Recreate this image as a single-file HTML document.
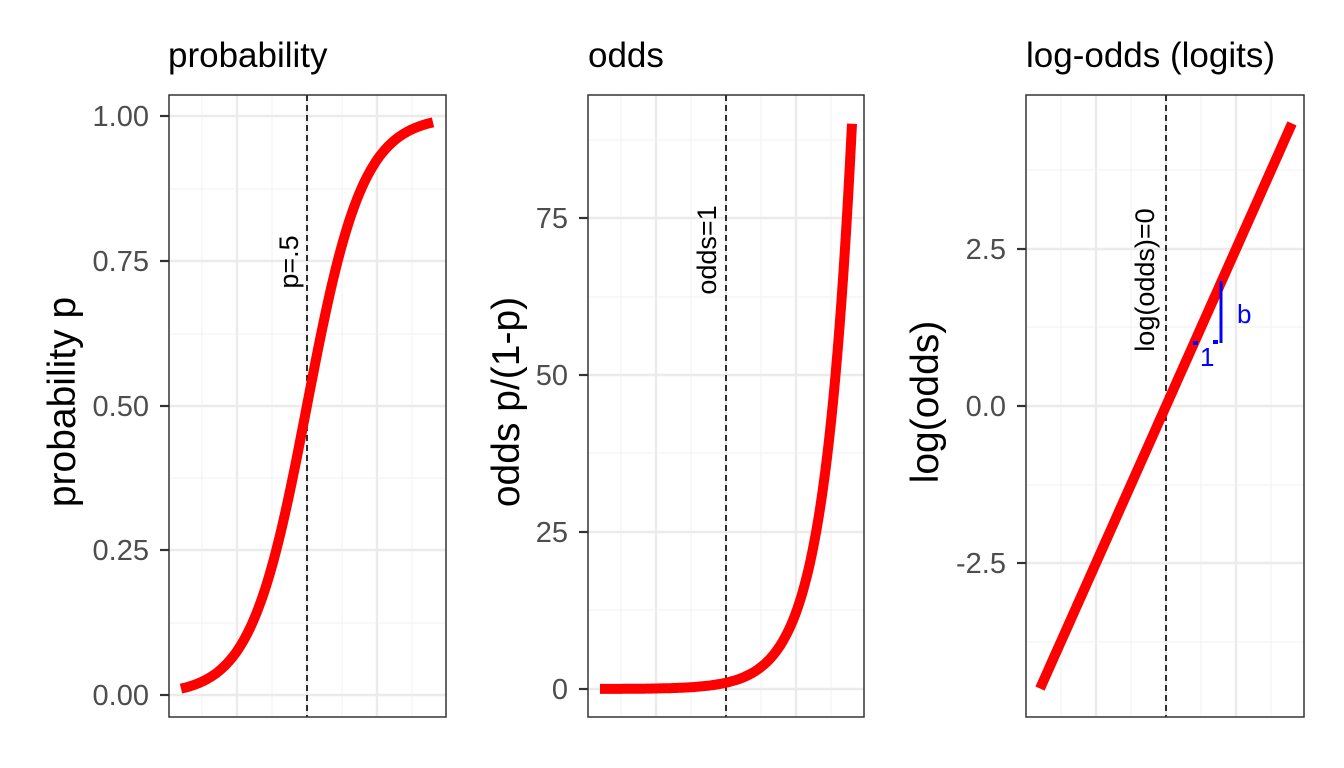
<!DOCTYPE html>
<html><head><meta charset="utf-8"><style>body{margin:0;background:#fff}svg{display:block;font-family:"Liberation Sans",sans-serif}</style></head>
<body><svg id="s" width="1344" height="768" xmlns="http://www.w3.org/2000/svg"></svg>
<script>
const s=document.getElementById('s');let h='';
function L(x1,y1,x2,y2,c,w,extra){h+=`<line x1="${x1}" y1="${y1}" x2="${x2}" y2="${y2}" stroke="${c}" stroke-width="${w}" ${extra||''}/>`;}
function T(x,y,t,sz,c,anchor,rot){h+=`<text x="${x}" y="${y}" font-size="${sz}" fill="${c}" text-anchor="${anchor||'start'}" ${rot?`transform="rotate(-90 ${x} ${y})"`:''}>${t}</text>`;}
const panels=[
 {x0:169,x1:446,cx:307,title:'probability',tx:168,ylab:'probability p',ylx:75,
  maj:[[695,'0.00'],[550,'0.25'],[406,'0.50'],[261,'0.75'],[116,'1.00']],min:[623,478,334,189],
  f:x=>695-579/(1+Math.exp(-x)),lab:'p=.5',labx:298,laby:262},
 {x0:588,x1:864,cx:726,title:'odds',tx:588,ylab:'odds p/(1-p)',ylx:519,
  maj:[[689,'0'],[532,'25'],[375,'50'],[218,'75']],min:[610,453,297,140],
  f:x=>689-6.28*Math.exp(x),lab:'odds=1',labx:716,laby:250},
 {x0:1026,x1:1304,cx:1166,title:'log-odds (logits)',tx:1026,ylab:'log(odds)',ylx:938,
  maj:[[406,'0.0'],[249,'2.5'],[563,'-2.5']],min:[170,327,485,642],
  f:x=>406-62.8*x,lab:'log(odds)=0',labx:1154,laby:280}
];
for(const p of panels){
 for(const y of p.min)L(p.x0,y,p.x1,y,'#f2f2f2',1);
 for(const k of [-105,-35,35,105])L(p.cx+k,95,p.cx+k,717,'#f2f2f2',1);
 for(const [y] of p.maj)L(p.x0,y,p.x1,y,'#ebebeb',2.4);
 for(const k of [-70,0,70])L(p.cx+k,95,p.cx+k,717,'#ebebeb',2.4);
 L(p.cx,95,p.cx,717,'#000',1.6,'stroke-dasharray="6,4"');
 let pts=[];for(let i=0;i<=120;i++){const x=-4.5+9*i/120;pts.push((p.cx+28*x).toFixed(1)+','+p.f(x).toFixed(1));}
 h+=`<polyline points="${pts.join(' ')}" fill="none" stroke="#ff0000" stroke-width="10" stroke-linejoin="round"/>`;
 h+=`<rect x="${p.x0}" y="95" width="${p.x1-p.x0}" height="622" fill="none" stroke="#333" stroke-width="1.5"/>`;
 for(const [y,t] of p.maj){L(p.x0-9,y,p.x0,y,'#333',2.2);T(p.x0-20,y+10,t,29,'#4d4d4d','end');}
 T(p.tx,67,p.title,35,'#000');
 T(p.ylx,402,p.ylab,39,'#000','middle',true);
 T(p.labx,p.laby,p.lab,27,'#000','middle',true);
}
L(1221,281,1221,343,'#0000ff',3);
h+=`<rect x="1193" y="341" width="5" height="4" fill="#0000ff"/><rect x="1213" y="340" width="5" height="4" fill="#0000ff"/>`;
T(1200,366,'1',26,'#0000ff');T(1237,323,'b',26,'#0000ff');
s.innerHTML=h;
</script></body></html>
